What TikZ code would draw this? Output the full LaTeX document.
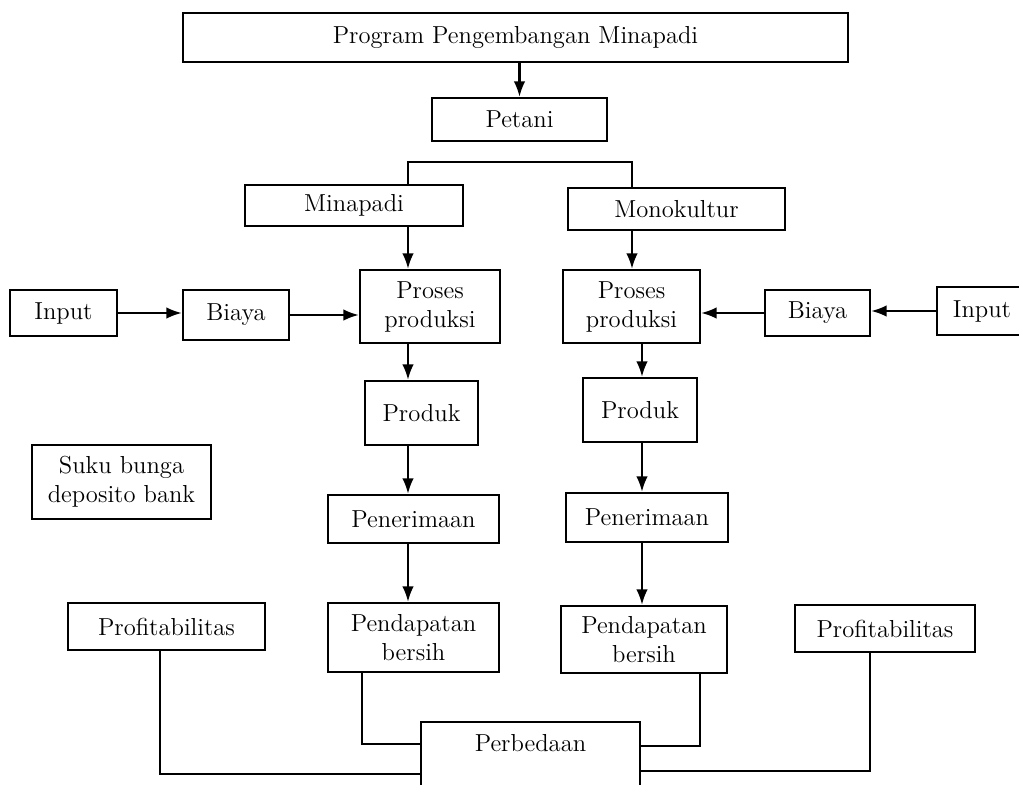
\documentclass[tikz,border=0pt]{standalone}
\usepackage{tikz}
\usetikzlibrary{positioning,arrows.meta}
\tikzset{
	kotak/.style={%
		draw, line width=1.3pt,
		minimum width=#1,
		minimum height=0.9cm,
		align=center,
		font=\fontsize{14}{16.5}\selectfont
	},
	kotak/.default=2cm,
	garis/.style={line width=1.3pt},
	>=LaTeX
}
\begin{document}
\begin{tikzpicture}[x=0.02cm,y=-0.02cm]
		\useasboundingbox (0,0) rectangle (1019,785);
		
		% Top part
		\node[kotak=13.3cm,minimum height=0.98cm] (judul) at (515.5,37.5) {Program Pengembangan Minapadi};
		\node[kotak=3.5cm,minimum height=0.86cm] (petani) at (519.5,119.5) {Petani};
		\node[kotak=4.36cm,minimum height=0.82cm] (minapadi) at (354,205.5) {Minapadi};
		\node[kotak=4.34cm,minimum height=0.84cm] (monokultur) at (676.5,209) {Monokultur};
		
		% Production row
		\node[kotak=2.14cm,minimum height=0.92cm] (inputA) at (63.5,313) {Input};
		\node[kotak=2.12cm,minimum height=1cm] (biayaA) at (236,315) {Biaya};
		\node[kotak=2.8cm,minimum height=1.46cm] (prosesA) at (430,306.5) {Proses\\produksi};
		\node[kotak=2.74cm,minimum height=1.46cm] (prosesB) at (631.5,306.5) {Proses\\produksi};
		\node[kotak=2.1cm,minimum height=0.92cm] (biayaB) at (817.5,313) {Biaya};
		\node[kotak=1.8cm,minimum height=0.96cm] (inputB) at (982,311) {Input};
		
		% Columns
		\node[kotak=2.26cm,minimum height=1.28cm] (produkA) at (421.5,413) {Produk};
		\node[kotak=2.28cm,minimum height=1.28cm] (produkB) at (640,410) {Produk};
		\node[kotak=3.58cm,minimum height=1.48cm] (suku) at (121.5,482) {Suku bunga\\deposito bank};
		\node[kotak=3.42cm,minimum height=0.96cm] (terimaA) at (413.5,519) {Penerimaan};
		\node[kotak=3.24cm,minimum height=0.98cm] (terimaB) at (647,517.5) {Penerimaan};
		\node[kotak=3.42cm,minimum height=1.38cm] (bersihA) at (413.5,637.5) {Pendapatan\\bersih};
		\node[kotak=3.32cm,minimum height=1.34cm] (bersihB) at (644,639.5) {Pendapatan\\bersih};
		\node[kotak=3.94cm,minimum height=0.94cm] (profitA) at (166.5,626.5) {Profitabilitas};
		\node[kotak=3.6cm,minimum height=0.94cm] (profitB) at (885,628.5) {Profitabilitas};
		
		% Bottom box, cut by the page edge
		\node[kotak=4.38cm,anchor=north,minimum height=0pt,inner ysep=0.2cm,text height=0.38cm,text depth=0.8cm] (beda) at (530.5,721) {Perbedaan};
		
		\coordinate (kiri) at (408,0);
		\coordinate (kanan) at (632,0);
		\coordinate (kanan2) at (642,0);
		
		%arrows between boxes
		\draw[garis,->] (judul.south -| petani) -- (petani);
		\draw[garis] (minapadi.north -| kiri) -- ++(0,-22) -| (monokultur.north -| kanan);
		\draw[garis,->] (minapadi.south -| kiri) -- (prosesA.north -| kiri);
		\draw[garis,->] (monokultur.south -| kanan) -- (prosesB.north -| kanan);
		
		\draw[garis,->] (inputA.east) -- (inputA.east -| biayaA.west);
		\draw[garis,->] (biayaA.east) -- (biayaA.east -| prosesA.west);
		\draw[garis,->] (inputB.west) -- (inputB.west -| biayaB.east);
		\draw[garis,->] (biayaB.west) -- (biayaB.west -| prosesB.east);
		
		\draw[garis,->] (prosesA.south -| kiri) -- (produkA.north -| kiri);
		\draw[garis,->] (produkA.south -| kiri) -- (terimaA.north -| kiri);
		\draw[garis,->] (terimaA.south -| kiri) -- (bersihA.north -| kiri);
		\draw[garis,->] (prosesB.south -| kanan2) -- (produkB.north -| kanan2);
		\draw[garis,->] (produkB.south -| kanan2) -- (terimaB.north -| kanan2);
		\draw[garis,->] (terimaB.south -| kanan2) -- (bersihB.north -| kanan2);
		
		% lines into Perbedaan
		\draw[garis] ([xshift=-1.03cm]bersihA.south) |- ([yshift=-0.46cm]beda.north west);
		\draw[garis] ([xshift=1.12cm]bersihB.south) |- ([yshift=-0.5cm]beda.north east);
		\draw[garis] ([xshift=-0.13cm]profitA.south) |- ([yshift=-1.06cm]beda.north west);
		\draw[garis] ([xshift=-0.3cm]profitB.south) |- ([yshift=-1cm]beda.north east);
		
		\end{tikzpicture}
\end{document}
